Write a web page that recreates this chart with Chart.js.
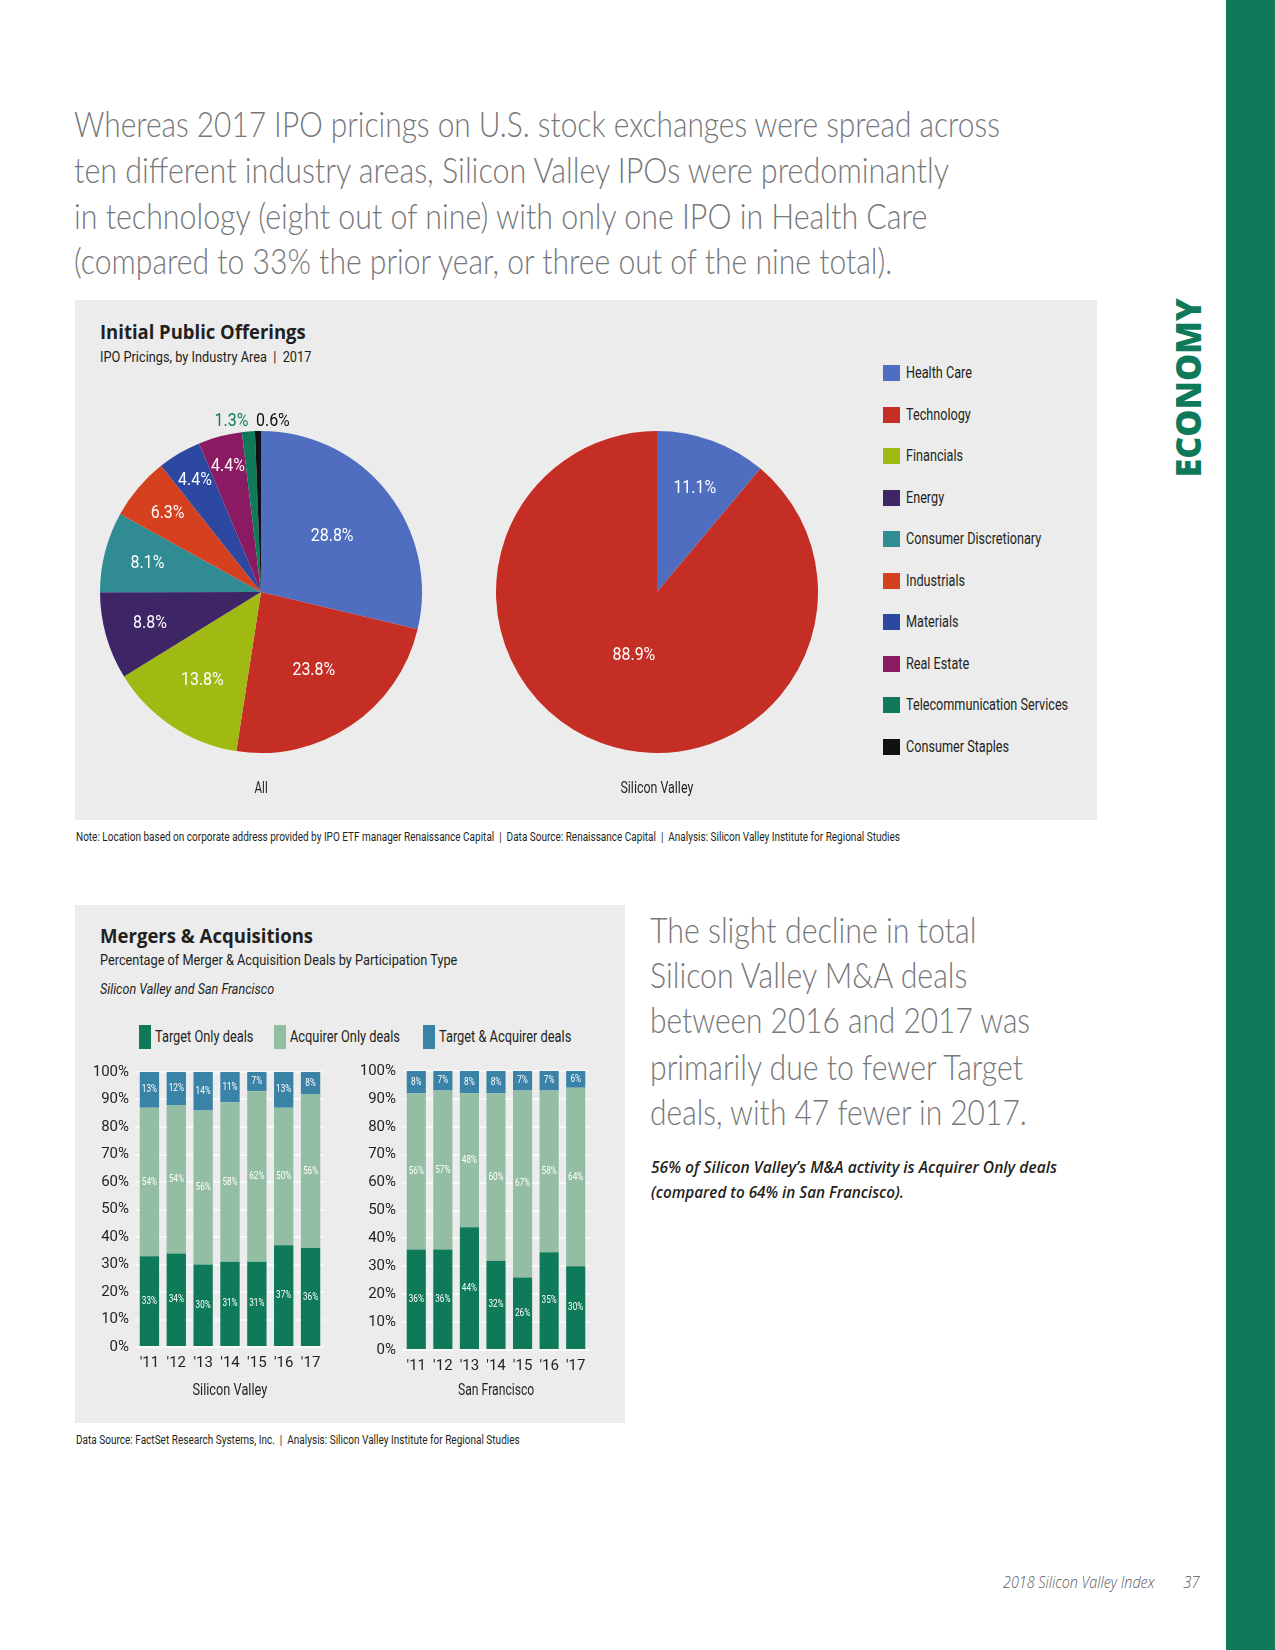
<!DOCTYPE html>
<html>
<head>
<meta charset="utf-8">
<script src="https://cdn.jsdelivr.net/npm/chart.js@4.4.1/dist/chart.umd.min.js"></script>
<style>
body { margin: 0; width: 1275px; height: 1650px; background: #fff; position: relative; overflow: hidden; }
.t { position: absolute; white-space: nowrap; color: #231f20; }
.fit { display: inline-block; transform-origin: 0 50%; }
.fitc { display: inline-block; transform-origin: 50% 50%; }
.para { font-family: Lato, "Open Sans", sans-serif; font-weight: 300; font-size: 36px; line-height: 46px; color: #76777b; }
.narrow { font-family: Roboto, "Liberation Sans", sans-serif; }
.bold { font-family: "Open Sans", "Noto Sans", sans-serif; font-weight: 700; font-size: 19px; line-height: 24px; }
.panel { position: absolute; background: #ececec; }
canvas { position: absolute; }
.sq { position: absolute; }
</style>
</head>
<body>

<div style="position:absolute;left:1226px;top:0;width:49px;height:1650px;background:#0e7a5a"></div>
<div class="t" style="left:1098px;top:375px;width:179px;height:36px;line-height:36px;text-align:center;transform:rotate(-90deg);font-family:'Open Sans',sans-serif;font-weight:800;font-size:36px;color:#0e7a5a">
  <span class="fitc" data-w="179">ECONOMY</span></div>

<!-- intro paragraph -->
<div class="t para" style="left:74px;top:100px"><span class="fit" data-w="926">Whereas 2017 IPO pricings on U.S. stock exchanges were spread across</span></div>
<div class="t para" style="left:74px;top:146px"><span class="fit" data-w="875">ten different industry areas, Silicon Valley IPOs were predominantly</span></div>
<div class="t para" style="left:74px;top:192px"><span class="fit" data-w="853">in technology (eight out of nine) with only one IPO in Health Care</span></div>
<div class="t para" style="left:74px;top:237px"><span class="fit" data-w="818">(compared to 33% the prior year, or three out of the nine total).</span></div>

<!-- IPO panel -->
<div class="panel" style="left:75px;top:300px;width:1022px;height:520px"></div>
<div class="t bold" style="left:100px;top:320px"><span class="fit" data-w="206">Initial Public Offerings</span></div>
<div class="t narrow" style="left:100px;top:347px;font-size:15px;line-height:20px"><span class="fit" data-w="211">IPO Pricings, by Industry Area&nbsp; |&nbsp; 2017</span></div>
<canvas id="pieAll" width="400" height="400" style="left:61px;top:392px;width:400px;height:400px"></canvas>
<canvas id="pieSV" width="400" height="400" style="left:457px;top:392px;width:400px;height:400px"></canvas>
<div class="t narrow" style="left:181px;top:778px;width:160px;text-align:center;font-size:16px;line-height:20px"><span class="fitc" data-w="13">All</span></div>
<div class="t narrow" style="left:577px;top:778px;width:160px;text-align:center;font-size:16px;line-height:20px"><span class="fitc" data-w="73">Silicon Valley</span></div>
<div id="ipoLegend"></div>
<div class="t narrow" style="left:76px;top:829px;font-size:12px;line-height:16px"><span class="fit" data-w="824">Note: Location based on corporate address provided by IPO ETF manager Renaissance Capital&nbsp; |&nbsp; Data Source: Renaissance Capital&nbsp; |&nbsp; Analysis: Silicon Valley Institute for Regional Studies</span></div>

<!-- M&A panel -->
<div class="panel" style="left:75px;top:905px;width:550px;height:518px"></div>
<div class="t bold" style="left:100px;top:924px"><span class="fit" data-w="213">Mergers &amp; Acquisitions</span></div>
<div class="t narrow" style="left:100px;top:950px;font-size:15px;line-height:20px"><span class="fit" data-w="357">Percentage of Merger &amp; Acquisition Deals by Participation Type</span></div>
<div class="t narrow" style="left:100px;top:979px;font-size:15px;line-height:20px;font-style:italic"><span class="fit" data-w="174">Silicon Valley and San Francisco</span></div>
<div id="maLegend"></div>
<canvas id="barSV" width="254" height="348" style="left:75px;top:1056px;width:254px;height:348px"></canvas>
<canvas id="barSF" width="254" height="349" style="left:340px;top:1055px;width:254px;height:349px"></canvas>
<div class="t narrow" style="left:150px;top:1380px;width:160px;text-align:center;font-size:16px;line-height:20px"><span class="fitc" data-w="75">Silicon Valley</span></div>
<div class="t narrow" style="left:416px;top:1380px;width:160px;text-align:center;font-size:16px;line-height:20px"><span class="fitc" data-w="76">San Francisco</span></div>
<div class="t narrow" style="left:76px;top:1432px;font-size:12px;line-height:16px"><span class="fit" data-w="444">Data Source: FactSet Research Systems, Inc.&nbsp; |&nbsp; Analysis: Silicon Valley Institute for Regional Studies</span></div>

<!-- side text -->
<div class="t para" style="left:650px;top:906px"><span class="fit" data-w="326">The slight decline in total</span></div>
<div class="t para" style="left:650px;top:951px"><span class="fit" data-w="317">Silicon Valley M&amp;A deals</span></div>
<div class="t para" style="left:650px;top:996px"><span class="fit" data-w="380">between 2016 and 2017 was</span></div>
<div class="t para" style="left:650px;top:1043px"><span class="fit" data-w="373">primarily due to fewer Target</span></div>
<div class="t para" style="left:650px;top:1088px"><span class="fit" data-w="377">deals, with 47 fewer in 2017.</span></div>
<div class="t" style="left:651px;top:1156px;font-family:'Open Sans',sans-serif;font-style:italic;font-weight:600;font-size:16px;line-height:22px"><span class="fit" data-w="406">56% of Silicon Valley’s M&amp;A activity is Acquirer Only deals</span></div>
<div class="t" style="left:651px;top:1181px;font-family:'Open Sans',sans-serif;font-style:italic;font-weight:600;font-size:16px;line-height:22px"><span class="fit" data-w="253">(compared to 64% in San Francisco).</span></div>

<!-- footer -->
<div class="t" style="left:1003px;top:1571px;font-family:'Open Sans',sans-serif;font-style:italic;font-weight:300;font-size:17px;line-height:22px;color:#58595b"><span class="fit" data-w="151">2018 Silicon Valley Index</span></div>
<div class="t" style="left:1183px;top:1571px;font-family:'Open Sans',sans-serif;font-style:italic;font-weight:300;font-size:17px;line-height:22px;color:#58595b"><span class="fit" data-w="17">37</span></div>

<script>
const FONT = 'Roboto, "Liberation Sans", sans-serif';
const INK = '#231f20';

/* IPO pricings by industry area, 2017 (percent) */
const industries = ['Health Care', 'Technology', 'Financials', 'Energy', 'Consumer Discretionary',
    'Industrials', 'Materials', 'Real Estate', 'Telecommunication Services', 'Consumer Staples'];
const industryColors = ['#4f6ebf', '#c52e25', '#a0b913', '#3e2566', '#318b93',
    '#d5401f', '#2d48a0', '#8a1a62', '#0e7a5a', '#111111'];
const ipoAll = [28.8, 23.8, 13.8, 8.8, 8.1, 6.3, 4.4, 4.4, 1.3, 0.6];
const ipoSV = [11.1, 88.9, 0, 0, 0, 0, 0, 0, 0, 0];

/* M&A deals by participation type (percent) */
const years = ["'11", "'12", "'13", "'14", "'15", "'16", "'17"];
const dealTypes = ['Target Only deals', 'Acquirer Only deals', 'Target & Acquirer deals'];
const dealColors = ['#0e7a5a', '#94bea4', '#3a82a6'];
const svTarget = [33, 34, 30, 31, 31, 37, 36];
const svAcquirer = [54, 54, 56, 58, 62, 50, 56];
const svBoth = [13, 12, 14, 11, 7, 13, 8];
const sfTarget = [36, 36, 44, 32, 26, 35, 30];
const sfAcquirer = [56, 57, 48, 60, 67, 58, 64];
const sfBoth = [8, 7, 8, 8, 7, 7, 6];

/* Draw text squeezed horizontally, the print uses a condensed face */
function condensedText(ctx, txt, x, y, k) {
    ctx.save();
    ctx.translate(x, y);
    ctx.scale(k, 1);
    ctx.fillText(txt, 0, 0);
    ctx.restore();
}

/* Percent labels on the pie slices; tiny slices get their label above the pie */
const pieLabels = {
    id: 'pieLabels',
    afterDatasetsDraw(chart) {
        const ctx = chart.ctx;
        const ds = chart.data.datasets[0];
        ctx.save();
        ctx.font = '19px ' + FONT;
        ctx.textBaseline = 'middle';
        chart.getDatasetMeta(0).data.forEach((arc, i) => {
            const v = ds.data[i];
            if (!v) return;
            const p = arc.getProps(['x', 'y', 'startAngle', 'endAngle', 'outerRadius'], true);
            const mid = (p.startAngle + p.endAngle) / 2;
            const txt = v.toFixed(1) + '%';
            if (v < 2) {
                const nextSmall = ds.data[i + 1] !== undefined && ds.data[i + 1] < 2;
                ctx.fillStyle = ds.backgroundColor[i];
                ctx.textAlign = nextSmall ? 'right' : 'left';
                condensedText(ctx, txt, p.x + Math.cos(mid) * p.outerRadius + (nextSmall ? 0 : -2), p.y - p.outerRadius - 10, 0.84);
            } else {
                const f = Math.max(0.42, 1.0 - 0.13 * Math.log(v));
                ctx.fillStyle = '#fff';
                ctx.textAlign = 'center';
                condensedText(ctx, txt, p.x + Math.cos(mid) * p.outerRadius * f, p.y + Math.sin(mid) * p.outerRadius * f, 0.84);
            }
        });
        ctx.restore();
    }
};

/* Small white value labels in the middle of each bar segment */
const barLabels = {
    id: 'barLabels',
    afterDatasetsDraw(chart) {
        const ctx = chart.ctx;
        ctx.save();
        ctx.font = '10px ' + FONT;
        ctx.fillStyle = '#fff';
        ctx.textAlign = 'center';
        ctx.textBaseline = 'middle';
        chart.data.datasets.forEach((ds, di) => {
            chart.getDatasetMeta(di).data.forEach((bar, i) => {
                const p = bar.getProps(['x', 'y', 'base'], true);
                condensedText(ctx, ds.data[i] + '%', p.x, (p.y + p.base) / 2, 0.82);
            });
        });
        ctx.restore();
    }
};

function makePie(id, values) {
    return new Chart(document.getElementById(id), {
        type: 'pie',
        data: {
            labels: industries,
            datasets: [{ data: values, backgroundColor: industryColors, borderWidth: 0 }]
        },
        options: {
            responsive: false,
            animation: false,
            events: [],
            radius: 161,
            plugins: { legend: { display: false }, tooltip: { enabled: false } }
        },
        plugins: [pieLabels]
    });
}

function makeBars(id, target, acquirer, both, axisW, axisH) {
    const tickFont = { family: FONT, size: 15 };
    return new Chart(document.getElementById(id), {
        type: 'bar',
        data: {
            labels: years,
            datasets: [target, acquirer, both].map((d, i) => ({
                label: dealTypes[i],
                data: d,
                backgroundColor: dealColors[i],
                borderWidth: 0,
                categoryPercentage: 1,
                barPercentage: 0.72
            }))
        },
        options: {
            responsive: false,
            animation: false,
            events: [],
            layout: { padding: { top: 9, right: 5, bottom: 0, left: 0 } },
            plugins: { legend: { display: false }, tooltip: { enabled: false } },
            scales: {
                x: {
                    stacked: true,
                    grid: { display: false, drawTicks: false },
                    border: { display: false },
                    ticks: { font: tickFont, color: INK, padding: 7, autoSkip: false, maxRotation: 0, minRotation: 0 },
                    afterFit(s) { s.height = axisH; }
                },
                y: {
                    stacked: true,
                    min: 0,
                    max: 100,
                    grid: { color: '#f8f8f8', lineWidth: 2, drawTicks: false },
                    border: { display: false },
                    ticks: { stepSize: 10, font: tickFont, color: INK, padding: 7, callback: v => v + '%' },
                    afterFit(s) { s.width = axisW; }
                }
            }
        },
        plugins: [barLabels]
    });
}

/* HTML legends built from the category arrays */
function buildLegends() {
    const ipo = document.getElementById('ipoLegend');
    industries.forEach((name, i) => {
        const y = 373 + i * 41.5;
        ipo.insertAdjacentHTML('beforeend',
            `<div class="sq" style="left:883px;top:${y - 8}px;width:17px;height:16px;background:${industryColors[i]}"></div>` +
            `<div class="t narrow" style="left:906px;top:${y - 10}px;font-size:16px;line-height:20px"><span class="fit legI">${name}</span></div>`);
    });
    const ma = document.getElementById('maLegend');
    const xs = [139, 274, 423];
    dealTypes.forEach((name, i) => {
        ma.insertAdjacentHTML('beforeend',
            `<div class="sq" style="left:${xs[i]}px;top:1025px;width:12px;height:24px;background:${dealColors[i]}"></div>` +
            `<div class="t narrow" style="left:${xs[i] + 16}px;top:1027px;font-size:16px;line-height:20px"><span class="fit legM">${name.replace('&', '&amp;')}</span></div>`);
    });
}

/* Squeeze text horizontally to the width it has in the printed page */
function fitText() {
    document.querySelectorAll('.fit[data-w], .fitc[data-w]').forEach(el => {
        el.style.transform = 'scaleX(' + (el.dataset.w / el.offsetWidth) + ')';
    });
    const legI = [...document.querySelectorAll('.legI')];
    const kI = 162 / legI[8].offsetWidth;
    legI.forEach(el => el.style.transform = 'scaleX(' + kI + ')');
    const legM = [...document.querySelectorAll('.legM')];
    const kM = 132 / legM[2].offsetWidth;
    legM.forEach(el => el.style.transform = 'scaleX(' + kM + ')');
}

buildLegends();
fitText();
makePie('pieAll', ipoAll);
makePie('pieSV', ipoSV);
makeBars('barSV', svTarget, svAcquirer, svBoth, 61, 57);
makeBars('barSF', sfTarget, sfAcquirer, sfBoth, 63, 54);
</script>
</body>
</html>
